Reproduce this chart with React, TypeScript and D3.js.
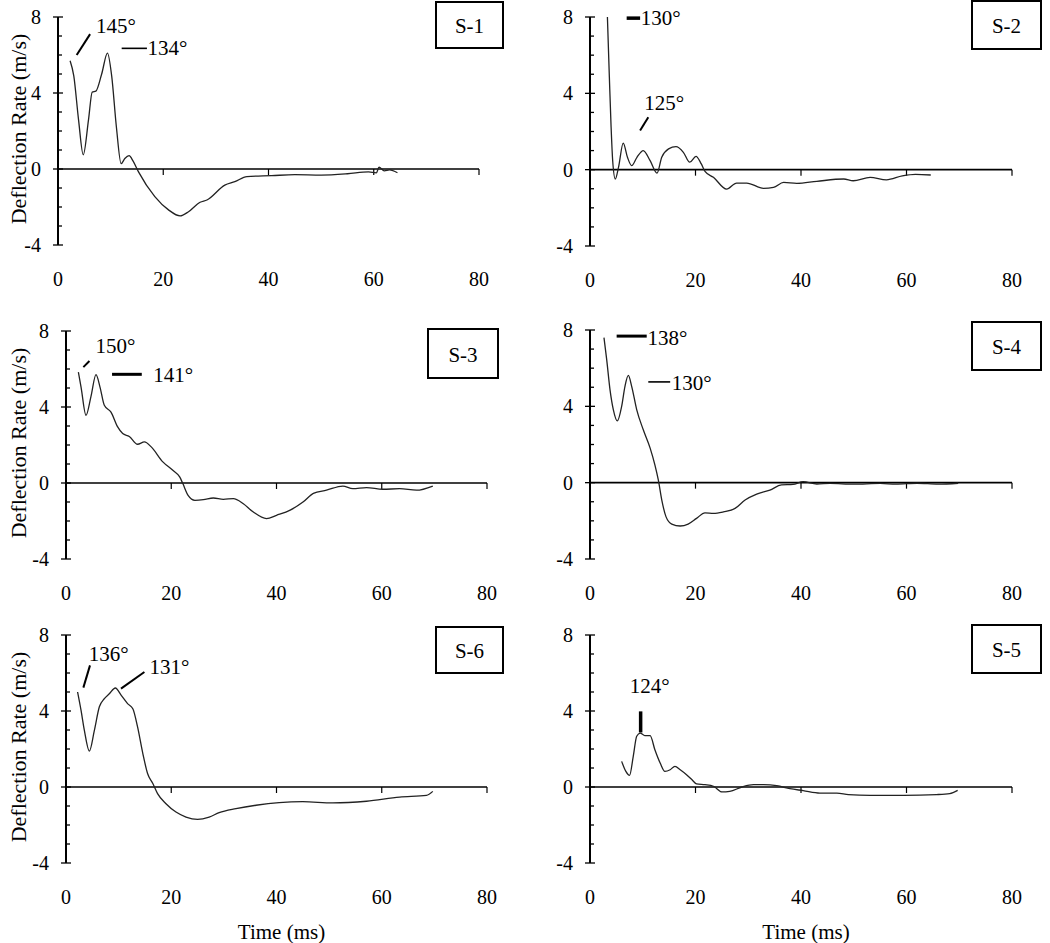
import * as d3 from "d3";
import { useEffect, useRef } from "react";

type Pt = [number, number];

// time (ms), deflection rate (m/s)
const s1Data: Pt[] = [
  [2.3, 5.7], [3, 4.9], [3.9, 2.6], [4.8, 0.75], [5.8, 2.6], [6.5, 4.05], [7.2, 4.1],
  [8.3, 5.0], [9.4, 6.1], [10.2, 4.9], [11.1, 2.2], [12, 0.28], [12.7, 0.55], [13.5, 0.7],
  [14.3, 0.4], [15.3, -0.15], [18.4, -1.45], [21, -2.15], [23.2, -2.47], [24.8, -2.25],
  [27, -1.75], [28.3, -1.63], [31.7, -0.85], [33.6, -0.67], [35.9, -0.4], [40.6, -0.35],
  [45, -0.3], [50, -0.32], [55, -0.25], [59, -0.15], [60.5, -0.2], [61, 0.1], [62, -0.1],
  [63, -0.05], [64.5, -0.2],
];

const s2Data: Pt[] = [
  [3.3, 8.0], [3.67, 4.86], [4.0, 2.23], [4.3, 0.47], [4.8, -0.49], [5.4, 0.12], [6.3, 1.39],
  [7.1, 0.65], [7.9, 0.21], [8.9, 0.65], [10.1, 1.0], [11.4, 0.47], [12.7, -0.18], [13.6, 0.65],
  [14.9, 1.09], [16.3, 1.21], [17.7, 0.91], [18.9, 0.39], [20.1, 0.7], [21.1, 0.3], [21.8, -0.09],
  [23.4, -0.4], [25.9, -1.02], [27.8, -0.7], [29.7, -0.7], [32.9, -0.98], [34.8, -0.93],
  [36.7, -0.67], [39.2, -0.72], [43, -0.61], [48.1, -0.49], [49.9, -0.58], [53.1, -0.4],
  [56.2, -0.53], [59.2, -0.33], [61.7, -0.25], [64.6, -0.28],
];

const s3Data: Pt[] = [
  [2.35, 5.84], [2.86, 5.05], [3.8, 3.56], [4.75, 4.56], [5.7, 5.7], [6.46, 5.05], [7.28, 4.09],
  [8.55, 3.73], [9.82, 2.95], [10.77, 2.6], [12.03, 2.45], [13.6, 2.04], [14.9, 2.16],
  [16.2, 1.9], [18.4, 1.11], [20.3, 0.67], [21.6, 0.32], [22.2, -0.03], [23.2, -0.65],
  [24.5, -0.91], [26.1, -0.88], [28, -0.79], [29.9, -0.86], [31.8, -0.82], [33.7, -1.09],
  [35.6, -1.53], [38.1, -1.87], [40, -1.7], [42.6, -1.43], [45.1, -0.99], [47, -0.55],
  [49.5, -0.38], [52.6, -0.16], [54.5, -0.3], [57.1, -0.24], [60.2, -0.33], [63.4, -0.3],
  [66.6, -0.38], [69.7, -0.16],
];

const s4Data: Pt[] = [
  [2.65, 7.6], [3.16, 6.46], [3.79, 4.88], [4.42, 3.83], [5.18, 3.24], [6.0, 4.0], [6.63, 5.05],
  [7.27, 5.62], [7.9, 5.05], [8.85, 3.83], [10.1, 2.77], [11.4, 1.81], [12.3, 0.93],
  [12.95, 0.14], [13.6, -0.9], [14.4, -1.78], [15.5, -2.17], [17.1, -2.27], [18.6, -2.17],
  [20.2, -1.87], [21.8, -1.58], [23.4, -1.61], [25.3, -1.53], [27.5, -1.35], [29.4, -0.91],
  [31.6, -0.6], [34.1, -0.39], [36.3, -0.12], [38.5, -0.09], [40.4, 0.05], [43, -0.07],
  [45.5, -0.04], [50, -0.08], [55, -0.04], [58, -0.08], [62, -0.03], [66, -0.08], [69.8, -0.03],
];

const s6Data: Pt[] = [
  [2.2, 5.0], [2.86, 4.03], [3.49, 2.98], [4.44, 1.89], [5.39, 2.98], [6.34, 4.22], [7.29, 4.65],
  [8.24, 4.91], [9.38, 5.21], [10.5, 4.82], [11.7, 4.39], [12.7, 4.12], [13.6, 3.16],
  [14.6, 1.76], [15.5, 0.71], [16.5, 0.18], [17.4, -0.35], [19.0, -0.88], [20.9, -1.32],
  [22.8, -1.58], [25.0, -1.7], [27.2, -1.58], [29.1, -1.35], [32.3, -1.14], [36.1, -0.96],
  [40.5, -0.82], [45, -0.77], [50.7, -0.84], [57.1, -0.75], [63.4, -0.53], [68.5, -0.44],
  [69.7, -0.23],
];

const s5Data: Pt[] = [
  [6.0, 1.35], [6.8, 0.82], [7.5, 0.61], [8.2, 1.61], [8.85, 2.67], [9.5, 2.84], [10.4, 2.7],
  [11.4, 2.7], [12.3, 1.96], [13.3, 1.26], [14.2, 0.82], [15.2, 0.91], [16.1, 1.09],
  [17.1, 0.91], [18.3, 0.65], [19.3, 0.39], [20.2, 0.16], [21.8, 0.12], [23.4, 0.04],
  [25.0, -0.26], [26.5, -0.23], [28.8, 0.0], [31, 0.12], [32.9, 0.12], [35.4, 0.07],
  [37.9, -0.09], [40.4, -0.19], [43.6, -0.32], [46.8, -0.32], [49, -0.4], [53.1, -0.44],
  [59.4, -0.44], [65.7, -0.4], [68.2, -0.35], [69.7, -0.18],
];

// angle call-outs: leader line ends and label anchor, in data units
type Note = { label: string; from: Pt; to: Pt; at: Pt; weight: number; anchor?: string };

const s1Notes: Note[] = [
  { label: "145°", from: [3.55, 6.0], to: [6.1, 7.1], at: [7.2, 7.55], weight: 2 },
  { label: "134°", from: [12.1, 6.35], to: [16.9, 6.35], at: [17.0, 6.35], weight: 1.6 },
];
const s2Notes: Note[] = [
  { label: "130°", from: [6.95, 7.94], to: [9.5, 7.94], at: [9.6, 7.95], weight: 3.5 },
  { label: "125°", from: [9.5, 2.05], to: [11.05, 2.75], at: [10.3, 3.5], weight: 2 },
];
const s3Notes: Note[] = [
  { label: "150°", from: [3.3, 6.1], to: [4.45, 6.42], at: [5.6, 7.22], weight: 2 },
  { label: "141°", from: [8.75, 5.72], to: [14.4, 5.72], at: [16.6, 5.67], weight: 3 },
];
const s4Notes: Note[] = [
  { label: "138°", from: [5.05, 7.68], to: [10.75, 7.68], at: [10.9, 7.6], weight: 3 },
  { label: "130°", from: [11.05, 5.28], to: [15.2, 5.28], at: [15.5, 5.23], weight: 1.6 },
];
const s6Notes: Note[] = [
  { label: "136°", from: [3.3, 5.23], to: [4.56, 6.4], at: [4.3, 7.02], weight: 2 },
  { label: "131°", from: [10.45, 5.18], to: [14.9, 6.05], at: [15.85, 6.32], weight: 2 },
];
const s5Notes: Note[] = [
  { label: "124°", from: [9.6, 2.87], to: [9.6, 3.98], at: [11.3, 5.3], weight: 3.5, anchor: "middle" },
];

const xTicks = [0, 20, 40, 60, 80];
const yTicks = [8, 4, 0, -4];

const panels = [
  { name: "S-1", data: s1Data, notes: s1Notes, x0: 58, x1: 479, yTop: 17, yBot: 245, box: [436, 2, 503, 48], yTitle: true, xTitle: false },
  { name: "S-2", data: s2Data, notes: s2Notes, x0: 590, x1: 1012, yTop: 17, yBot: 246, box: [972, 1, 1041, 49], yTitle: false, xTitle: false },
  { name: "S-3", data: s3Data, notes: s3Notes, x0: 66, x1: 487, yTop: 331, yBot: 559, box: [428, 329, 498, 378], yTitle: true, xTitle: false },
  { name: "S-4", data: s4Data, notes: s4Notes, x0: 590, x1: 1012, yTop: 330, yBot: 559, box: [972, 322, 1041, 370], yTitle: false, xTitle: false },
  { name: "S-6", data: s6Data, notes: s6Notes, x0: 66, x1: 487, yTop: 635, yBot: 863, box: [436, 627, 503, 673], yTitle: true, xTitle: true },
  { name: "S-5", data: s5Data, notes: s5Notes, x0: 590, x1: 1012, yTop: 635, yBot: 863, box: [972, 625, 1041, 673], yTitle: false, xTitle: true },
];

const FONT = "'Liberation Serif', 'Times New Roman', serif";

export default function App() {
  const svgRef = useRef<SVGSVGElement>(null);

  useEffect(() => {
    document.body.style.margin = "0";
    if (!svgRef.current) return;
    const svg = d3.select(svgRef.current);
    svg.selectAll("*").remove();

    panels.forEach((p) => {
      const x = d3.scaleLinear().domain([0, 80]).range([p.x0, p.x1]);
      const y = d3.scaleLinear().domain([8, -4]).range([p.yTop, p.yBot]);
      const g = svg.append("g");

      // y axis with minor ticks
      g.append("line")
        .attr("x1", p.x0).attr("x2", p.x0)
        .attr("y1", y(8)).attr("y2", y(-4))
        .attr("stroke", "#000").attr("stroke-width", 2);
      d3.range(-4, 9).forEach((v) => {
        const major = v % 4 === 0;
        g.append("line")
          .attr("x1", major ? p.x0 - 5 : p.x0).attr("x2", p.x0 + (major ? 5 : 4))
          .attr("y1", y(v)).attr("y2", y(v))
          .attr("stroke", "#000").attr("stroke-width", 1.3);
      });
      g.selectAll(".ytl").data(yTicks).enter().append("text")
        .attr("x", p.x0 - 17).attr("y", (d) => y(d))
        .attr("text-anchor", "end").attr("dominant-baseline", "central")
        .style("font-family", FONT).style("font-size", "20px")
        .text((d) => d);

      // zero line + x ticks, labels sit below the frame
      g.append("line")
        .attr("x1", x(0)).attr("x2", x(80))
        .attr("y1", y(0)).attr("y2", y(0))
        .attr("stroke", "#000").attr("stroke-width", 1.6);
      xTicks.slice(1).forEach((t) => {
        g.append("line")
          .attr("x1", x(t)).attr("x2", x(t))
          .attr("y1", y(0)).attr("y2", y(0) + 6)
          .attr("stroke", "#000").attr("stroke-width", 1.2);
      });
      g.selectAll(".xtl").data(xTicks).enter().append("text")
        .attr("x", (d) => x(d)).attr("y", y(-4) + 34)
        .attr("text-anchor", "middle").attr("dominant-baseline", "central")
        .style("font-family", FONT).style("font-size", "20px")
        .text((d) => d);

      // trace
      const line = d3.line<Pt>().x((d) => x(d[0])).y((d) => y(d[1])).curve(d3.curveMonotoneX);
      g.append("path")
        .datum(p.data)
        .attr("d", line)
        .attr("fill", "none")
        .attr("stroke", "#222")
        .attr("stroke-width", 1.3);

      // call-outs
      p.notes.forEach((n) => {
        g.append("line")
          .attr("x1", x(n.from[0])).attr("y1", y(n.from[1]))
          .attr("x2", x(n.to[0])).attr("y2", y(n.to[1]))
          .attr("stroke", "#000").attr("stroke-width", n.weight);
        g.append("text")
          .attr("x", x(n.at[0])).attr("y", y(n.at[1]))
          .attr("text-anchor", n.anchor ?? "start").attr("dominant-baseline", "central")
          .style("font-family", FONT).style("font-size", "21px")
          .text(n.label);
      });

      // specimen box
      const [bx0, by0, bx1, by1] = p.box;
      g.append("rect")
        .attr("x", bx0).attr("y", by0)
        .attr("width", bx1 - bx0).attr("height", by1 - by0)
        .attr("fill", "#fff").attr("stroke", "#000").attr("stroke-width", 2);
      g.append("text")
        .attr("x", (bx0 + bx1) / 2).attr("y", (by0 + by1) / 2 + 1)
        .attr("text-anchor", "middle").attr("dominant-baseline", "central")
        .style("font-family", FONT).style("font-size", "21px")
        .text(p.name);

      if (p.yTitle) {
        const cy = (y(8) + y(-4)) / 2 - 2;
        g.append("text")
          .attr("transform", `translate(18,${cy}) rotate(-90)`)
          .attr("text-anchor", "middle").attr("dominant-baseline", "central")
          .style("font-family", FONT).style("font-size", "22px")
          .text("Deflection Rate (m/s)");
      }
      if (p.xTitle) {
        g.append("text")
          .attr("x", (p.x0 + p.x1) / 2 + 5).attr("y", 932)
          .attr("text-anchor", "middle").attr("dominant-baseline", "central")
          .style("font-family", FONT).style("font-size", "21px")
          .text("Time (ms)");
      }
    });
  }, []);

  return (
    <svg ref={svgRef} width={1050} height={943} style={{ display: "block", background: "#fff" }} />
  );
}
